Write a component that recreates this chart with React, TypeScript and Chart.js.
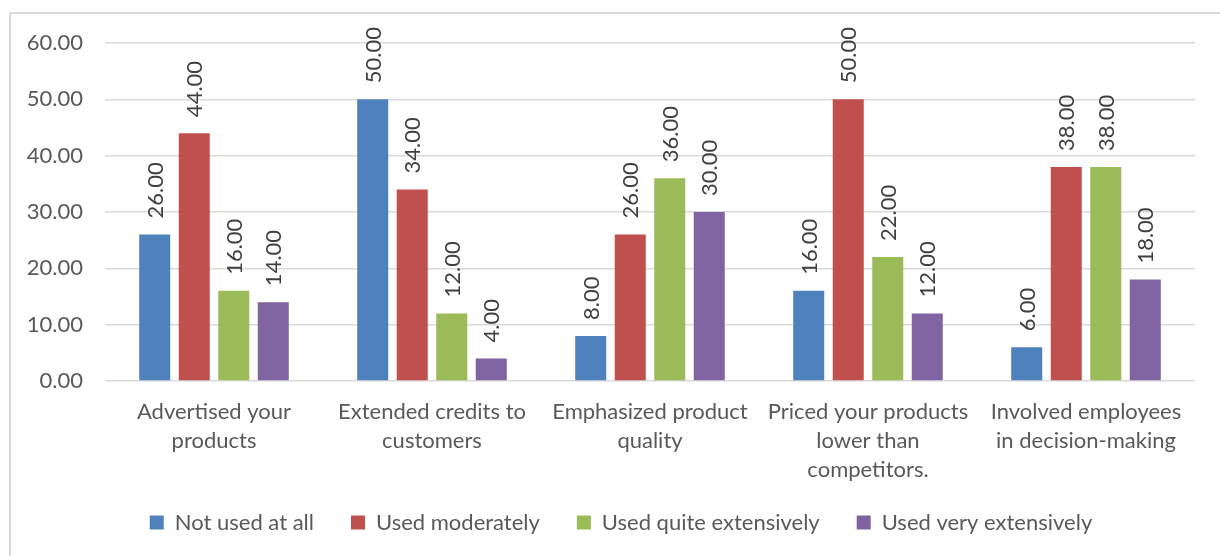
import React, { useEffect, useRef } from "react";
import { Chart, registerables } from "chart.js";

Chart.register(...registerables);

const categories: string[][] = [
  ["Advertised your", "products"],
  ["Extended credits to", "customers"],
  ["Emphasized product", "quality"],
  ["Priced your products", "lower than", "competitors."],
  ["Involved employees", "in decision-making"],
];

const seriesNames = ["Not used at all", "Used moderately", "Used quite extensively", "Used very extensively"];
const notUsed = [26, 50, 8, 16, 6];
const moderately = [44, 34, 26, 50, 38];
const quiteExtensively = [16, 12, 36, 22, 38];
const veryExtensively = [14, 4, 30, 12, 18];
const colors = ["#4F81BD", "#C0504D", "#9BBB59", "#8064A2"];
const yTicks = [0, 10, 20, 30, 40, 50, 60];

const FONT = "Lato, 'Open Sans', sans-serif";
const FS = 22;
const LEGEND_PAD = 37;

const dataLabelPlugin = {
  id: "barValueLabels",
  afterDatasetsDraw(chart: any) {
    const ctx = chart.ctx;
    ctx.save();
    ctx.font = `${FS}px ${FONT}`;
    ctx.fillStyle = "#404040";
    chart.data.datasets.forEach((ds: any, i: number) => {
      const meta = chart.getDatasetMeta(i);
      meta.data.forEach((bar: any, j: number) => {
        const v = ds.data[j];
        ctx.save();
        ctx.translate(bar.x, bar.y - 16);
        ctx.rotate(-Math.PI / 2);
        ctx.textAlign = "left";
        ctx.textBaseline = "middle";
        ctx.fillText(Number(v).toFixed(2), 0, 1);
        ctx.restore();
      });
    });
    ctx.restore();
  },
};

// place legend row where the reference has it
const legendPlacePlugin = {
  id: "legendPlace",
  afterLayout(chart: any) {
    const lg = chart.legend;
    if (!lg) return;
    const dy = 497.5 - LEGEND_PAD - lg.top;
    lg.top += dy;
    lg.bottom += dy;
    lg.left += 11;
    lg.right += 11;
  },
};

export default function App() {
  const ref = useRef<HTMLCanvasElement | null>(null);
  useEffect(() => {
    document.body.style.margin = "0";
    const seriesData = [notUsed, moderately, quiteExtensively, veryExtensively];
    const chart = new Chart(ref.current as HTMLCanvasElement, {
      type: "bar",
      data: {
        labels: categories,
        datasets: seriesNames.map((name, i) => ({
          label: name,
          data: seriesData[i],
          backgroundColor: colors[i],
          borderWidth: 0,
          categoryPercentage: 0.725,
          barPercentage: 0.785,
        })),
      },
      options: {
        responsive: false,
        animation: false,
        devicePixelRatio: 1,
        layout: { padding: { left: 14, right: 44, top: 29, bottom: 24 } },
        plugins: {
          tooltip: { enabled: false },
          legend: {
            position: "bottom",
            labels: {
              boxWidth: 14,
              boxHeight: 14,
              padding: LEGEND_PAD,
              color: "#595959",
              font: { family: FONT, size: FS },
            },
          },
        },
        scales: {
          x: {
            grid: { display: false, drawTicks: false },
            border: { display: false },
            ticks: {
              color: "#595959",
              font: { family: FONT, size: FS, lineHeight: 1.32 },
              maxRotation: 0,
              autoSkip: false,
              padding: 16,
            },
            afterFit: (scale: any) => {
              scale.height = 120;
              scale.paddingLeft = 0;
              scale.paddingRight = 0;
            },
          },
          y: {
            min: 0,
            max: 60,
            afterBuildTicks: (scale: any) => {
              scale.ticks = yTicks.map((v) => ({ value: v }));
            },
            grid: { color: "#d9d9d9", lineWidth: 1.5, drawTicks: false },
            border: { display: false },
            ticks: {
              color: "#595959",
              font: { family: FONT, size: FS },
              padding: 22,
              callback: (v: any) => Number(v).toFixed(2),
            },
            afterFit: (scale: any) => {
              scale.width = 80;
              scale.paddingTop = 0;
              scale.paddingBottom = 0;
            },
          },
        },
      },
      plugins: [dataLabelPlugin, legendPlacePlugin],
    });
    return () => chart.destroy();
  }, []);

  return (
    <div style={{ position: "fixed", left: 0, top: 0, width: 1220, height: 556, overflow: "hidden", background: "#fff" }}>
      <div
        style={{
          position: "absolute",
          left: 9,
          top: 12,
          width: 1240,
          height: 600,
          border: "2px solid #d9d9d9",
          boxSizing: "border-box",
        }}
      >
        <canvas ref={ref} width={1228} height={580} style={{ position: "absolute", left: 0, top: 0 }} />
      </div>
    </div>
  );
}
